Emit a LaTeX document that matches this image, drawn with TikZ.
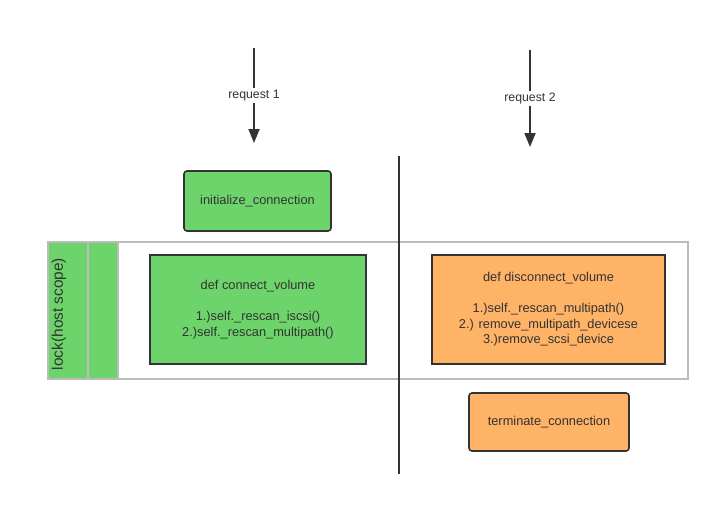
\documentclass[tikz,border=0pt]{standalone}
\usepackage{fontspec}
\setmainfont{Liberation Sans}
\usetikzlibrary{arrows.meta}
\definecolor{boxgreen}{HTML}{6CD46A}
\definecolor{boxorange}{HTML}{FFB366}
\definecolor{ink}{HTML}{333333}
\definecolor{frame}{HTML}{BBBBBB}
\begin{document}
\begin{tikzpicture}[x=1pt,y=-1pt,
    font=\fontsize{12.8}{15.5}\selectfont, text=ink,
    func/.style={draw=ink, line width=1.6pt, align=center, inner sep=0pt},
    call/.style={func, rounded corners=3pt},
    req/.style={draw=ink, line width=1.8pt, -{Triangle[length=14pt,width=11pt]}},
    lbl/.style={fill=white, inner sep=2pt, font=\fontsize{12.3}{14}\selectfont}]
  \useasboundingbox (0,0) rectangle (720,506);
  % lock frame
  \draw[frame, line width=1.3pt, fill=white] (48,242) rectangle (688,379);
  \draw[frame, line width=1.3pt, fill=boxgreen] (48,242) rectangle (88,379);
  \draw[frame, line width=1.3pt, fill=boxgreen] (88,242) rectangle (118,379);
  \node[rotate=90, font=\fontsize{15.4}{18}\selectfont] (lock) at (59,314) {lock(host scope)};
  % separator
  \coordinate (sep top) at (399,156);
  \coordinate (sep bot) at (399,474);
  \draw[ink, line width=1.5pt] (sep top) -- (sep bot);
  % functions
  \node[call, fill=boxgreen, minimum width=147pt, minimum height=60pt]
    (init) at (257.5,201) {initialize\_connection};
  \node[func, fill=boxgreen, minimum width=216pt, minimum height=109pt]
    (connect) at (258,309.5) {def connect\_volume\\[15.5pt]1.)self.\_rescan\_iscsi()\\2.)self.\_rescan\_multipath()};
  \node[func, fill=boxorange, minimum width=233pt, minimum height=109pt]
    (disconnect) at (548.5,309.5) {def disconnect\_volume\\[15.5pt]1.)self.\_rescan\_multipath()\\2.) remove\_multipath\_devicese\\3.)remove\_scsi\_device};
  \node[call, fill=boxorange, minimum width=160pt, minimum height=58pt]
    (terminate) at (549,422) {terminate\_connection};
  % requests
  \coordinate (r1 start) at (254,48);
  \coordinate (r1 end) at (254,143);
  \coordinate (r2 start) at (530,50);
  \coordinate (r2 end) at (530,147);
  \draw[req] (r1 start) -- node[lbl] (r1) {request 1} (r1 end);
  \draw[req] (r2 start) -- node[lbl] (r2) {request 2} (r2 end);
\end{tikzpicture}
\end{document}
